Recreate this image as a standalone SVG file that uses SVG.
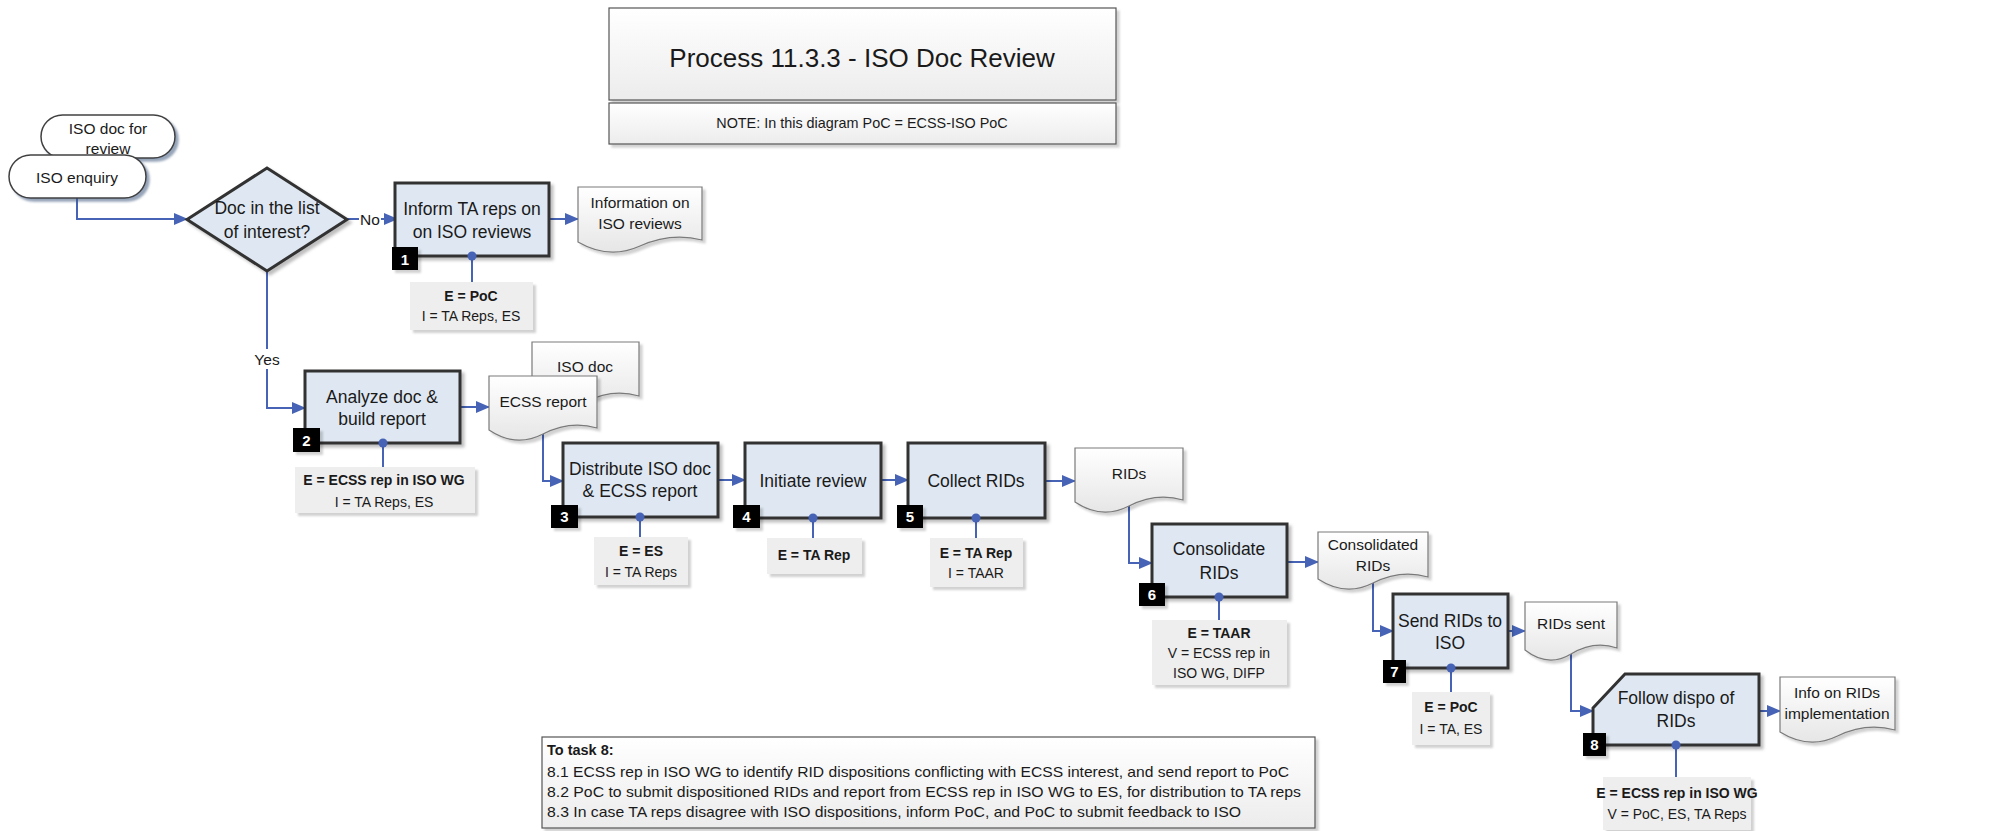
<svg xmlns="http://www.w3.org/2000/svg" width="1997" height="831" viewBox="0 0 1997 831">
<style>
text{font-family:"Liberation Sans",Arial,sans-serif;fill:#1a1a1a;dominant-baseline:central;text-anchor:middle}
.box{fill:#dfe8f2;stroke:#333;stroke-width:3;filter:url(#sh)}
.lbl{fill:#eeeeee;stroke:none;filter:url(#sh2)}
.doc{fill:url(#dg);stroke:#7a7a7a;stroke-width:1.2;filter:url(#sh2)}
.pill{fill:#fff;stroke:#404040;stroke-width:1.5;filter:url(#shb)}
.badge{fill:#000;filter:url(#sh2)}
.bn{fill:#fff;font-weight:bold;font-size:15px}
.t{font-size:17.5px}
.dt{font-size:15.5px}
.lt{font-size:14px}
.b{font-weight:bold}
.nt{font-size:14.5px;text-anchor:start}
.con{fill:none;stroke:#4663b5;stroke-width:2}
.dot{fill:#4663b5}
</style>
<defs>
<filter id="sh" x="-10%" y="-10%" width="130%" height="130%"><feDropShadow dx="3" dy="3" stdDeviation="1.5" flood-color="#000" flood-opacity="0.25"/></filter>
<filter id="sh2" x="-10%" y="-10%" width="130%" height="130%"><feDropShadow dx="3" dy="3" stdDeviation="1.2" flood-color="#000" flood-opacity="0.18"/></filter>
<filter id="shb" x="-10%" y="-10%" width="130%" height="130%"><feDropShadow dx="3" dy="3" stdDeviation="1" flood-color="#3c5a80" flood-opacity="0.55"/></filter>
<linearGradient id="dg" x1="0" y1="0" x2="0" y2="1"><stop offset="0" stop-color="#ffffff"/><stop offset="1" stop-color="#e6e6e6"/></linearGradient>
<linearGradient id="tg" x1="0" y1="0" x2="0" y2="1"><stop offset="0" stop-color="#ffffff"/><stop offset="1" stop-color="#ececec"/></linearGradient>
<marker id="ah" markerWidth="14" markerHeight="12" refX="13" refY="6" orient="auto" markerUnits="userSpaceOnUse"><path d="M0,0 L14,6 L0,12 Z" fill="#4663b5"/></marker>
</defs>

<g id="title">
<rect x="609" y="8" width="507" height="92" fill="url(#tg)" stroke="#555" stroke-width="1.2" filter="url(#sh2)"/>
<text x="862" y="58" style="font-size:26px">Process 11.3.3 - ISO Doc Review</text>
<rect x="609" y="103" width="507" height="41" fill="url(#tg)" stroke="#555" stroke-width="1.2" filter="url(#sh2)"/>
<text x="862" y="123" style="font-size:14.4px">NOTE: In this diagram PoC = ECSS-ISO PoC</text>
</g>

<g id="connectors">
<polyline class="con" points="77,198 77,219 187,219" marker-end="url(#ah)"/>
<line class="con" x1="347" y1="219" x2="397" y2="219" marker-end="url(#ah)"/>
<polyline class="con" points="267,271 267,408 305,408" marker-end="url(#ah)"/>
<line class="con" x1="549" y1="219" x2="578" y2="219" marker-end="url(#ah)"/>
<line class="con" x1="460" y1="407" x2="489" y2="407" marker-end="url(#ah)"/>
<polyline class="con" points="543,434 543,481 563,481" marker-end="url(#ah)"/>
<line class="con" x1="718" y1="480" x2="745" y2="480" marker-end="url(#ah)"/>
<line class="con" x1="881" y1="480" x2="908" y2="480" marker-end="url(#ah)"/>
<line class="con" x1="1045" y1="481" x2="1075" y2="481" marker-end="url(#ah)"/>
<polyline class="con" points="1129,506 1129,563 1152,563" marker-end="url(#ah)"/>
<line class="con" x1="1287" y1="562" x2="1318" y2="562" marker-end="url(#ah)"/>
<polyline class="con" points="1373,583 1373,631 1393,631" marker-end="url(#ah)"/>
<line class="con" x1="1508" y1="631" x2="1525" y2="631" marker-end="url(#ah)"/>
<polyline class="con" points="1571,654 1571,711 1593,711" marker-end="url(#ah)"/>
<line class="con" x1="1759" y1="711" x2="1780" y2="711" marker-end="url(#ah)"/>
<line class="con" x1="472" y1="256" x2="472" y2="282"/>
<line class="con" x1="383" y1="443" x2="383" y2="467"/>
<line class="con" x1="640" y1="517" x2="640" y2="537"/>
<line class="con" x1="813" y1="518" x2="813" y2="538"/>
<line class="con" x1="976" y1="518" x2="976" y2="538"/>
<line class="con" x1="1219" y1="597" x2="1219" y2="620"/>
<line class="con" x1="1451" y1="668" x2="1451" y2="692"/>
<line class="con" x1="1676" y1="745" x2="1676" y2="777"/>
<rect x="359" y="209" width="22" height="20" fill="#fff"/>
<text x="370" y="219" class="dt">No</text>
<rect x="253" y="349" width="28" height="20" fill="#fff"/>
<text x="267" y="359" class="dt">Yes</text>
</g>

<g id="start-review">
<rect class="pill" x="41" y="115" width="134" height="43" rx="21.5"/>
<text x="108" y="128" class="dt">ISO doc for</text>
<text x="108" y="148" class="dt">review</text>
</g>
<g id="start-enquiry">
<rect class="pill" x="9" y="155" width="137" height="43" rx="21.5"/>
<text x="77" y="177" class="dt">ISO enquiry</text>
</g>

<g id="decision">
<polygon points="187,219.5 267,168 347,219.5 267,271" fill="#dfe8f2" stroke="#333" stroke-width="3" filter="url(#sh)"/>
<text x="267" y="208" class="t">Doc in the list</text>
<text x="267" y="232" class="t">of interest?</text>
</g>

<g id="task1">
<rect class="box" x="395" y="183" width="154" height="73"/>
<text x="472" y="209" class="t">Inform TA reps on</text>
<text x="472" y="232" class="t">on ISO reviews</text>
<rect class="badge" x="392" y="247" width="26" height="23"/><text x="405" y="259" class="bn">1</text>
<circle class="dot" cx="472" cy="256" r="4.5"/>
<rect class="lbl" x="410" y="282" width="123" height="48"/>
<text x="471" y="296" class="lt b">E = PoC</text>
<text x="471" y="316" class="lt">I = TA Reps, ES</text>
</g>

<g id="doc-info-iso">
<path class="doc" d="M578,187 H702 V240 Q671,232 640,246 T578,242 Z"/>
<text x="640" y="202" class="dt">Information on</text>
<text x="640" y="223" class="dt">ISO reviews</text>
</g>

<g id="task2">
<rect class="box" x="305" y="371" width="155" height="72"/>
<text x="382" y="397" class="t">Analyze doc &amp;</text>
<text x="382" y="419" class="t">build report</text>
<rect class="badge" x="293" y="428" width="27" height="24"/><text x="306.5" y="440" class="bn">2</text>
<circle class="dot" cx="383" cy="443" r="4.5"/>
<rect class="lbl" x="295" y="467" width="180" height="46"/>
<text x="384" y="480" class="lt b">E = ECSS rep in ISO WG</text>
<text x="384" y="502" class="lt">I = TA Reps, ES</text>
</g>

<g id="doc-iso">
<path class="doc" d="M532,342 H639 V396 Q612,388 585.5,402 T532,398 Z"/>
<text x="585" y="366" class="dt">ISO doc</text>
</g>
<g id="doc-ecss-report">
<path class="doc" d="M489,376 H597 V428 Q570,420 543,434 T489,430 Z"/>
<text x="543" y="401" class="dt">ECSS report</text>
</g>

<g id="task3">
<rect class="box" x="563" y="443" width="155" height="74"/>
<text x="640" y="469" class="t">Distribute ISO doc</text>
<text x="640" y="491" class="t">&amp; ECSS report</text>
<rect class="badge" x="551" y="505" width="27" height="23"/><text x="564.5" y="516.5" class="bn">3</text>
<circle class="dot" cx="640" cy="517" r="4.5"/>
<rect class="lbl" x="594" y="537" width="94" height="48"/>
<text x="641" y="551" class="lt b">E = ES</text>
<text x="641" y="572" class="lt">I = TA Reps</text>
</g>

<g id="task4">
<rect class="box" x="745" y="443" width="136" height="75"/>
<text x="813" y="481" class="t">Initiate review</text>
<rect class="badge" x="733" y="505" width="27" height="23"/><text x="746.5" y="516.5" class="bn">4</text>
<circle class="dot" cx="813" cy="518" r="4.5"/>
<rect class="lbl" x="767" y="538" width="95" height="36"/>
<text x="814" y="555" class="lt b">E = TA Rep</text>
</g>

<g id="task5">
<rect class="box" x="908" y="443" width="137" height="75"/>
<text x="976" y="481" class="t">Collect RIDs</text>
<rect class="badge" x="897" y="505" width="26" height="23"/><text x="910" y="516.5" class="bn">5</text>
<circle class="dot" cx="976" cy="518" r="4.5"/>
<rect class="lbl" x="930" y="538" width="93" height="49"/>
<text x="976" y="553" class="lt b">E = TA Rep</text>
<text x="976" y="573" class="lt">I = TAAR</text>
</g>

<g id="doc-rids">
<path class="doc" d="M1075,448 H1183 V500 Q1156,492 1129,506 T1075,502 Z"/>
<text x="1129" y="473" class="dt">RIDs</text>
</g>

<g id="task6">
<rect class="box" x="1152" y="524" width="135" height="73"/>
<text x="1219" y="549" class="t">Consolidate</text>
<text x="1219" y="573" class="t">RIDs</text>
<rect class="badge" x="1139" y="583" width="26" height="23"/><text x="1152" y="594.5" class="bn">6</text>
<circle class="dot" cx="1219" cy="597" r="4.5"/>
<rect class="lbl" x="1152" y="620" width="135" height="65"/>
<text x="1219" y="633" class="lt b">E = TAAR</text>
<text x="1219" y="653" class="lt">V = ECSS rep in</text>
<text x="1219" y="673" class="lt">ISO WG, DIFP</text>
</g>

<g id="doc-consolidated">
<path class="doc" d="M1318,532 H1428 V577 Q1400.5,569 1373,583 T1318,579 Z"/>
<text x="1373" y="544" class="dt">Consolidated</text>
<text x="1373" y="565" class="dt">RIDs</text>
</g>

<g id="task7">
<rect class="box" x="1393" y="594" width="115" height="74"/>
<text x="1450" y="621" class="t">Send RIDs to</text>
<text x="1450" y="643" class="t">ISO</text>
<rect class="badge" x="1383" y="660" width="23" height="23"/><text x="1394.5" y="671.5" class="bn">7</text>
<circle class="dot" cx="1451" cy="668" r="4.5"/>
<rect class="lbl" x="1412" y="692" width="78" height="53"/>
<text x="1451" y="707" class="lt b">E = PoC</text>
<text x="1451" y="729" class="lt">I = TA, ES</text>
</g>

<g id="doc-rids-sent">
<path class="doc" d="M1525,602 H1617 V648 Q1594,640 1571,654 T1525,650 Z"/>
<text x="1571" y="623" class="dt">RIDs sent</text>
</g>

<g id="task8">
<path class="box" d="M1593,708 L1625,674 H1759 V745 H1593 Z"/>
<text x="1676" y="698" class="t">Follow dispo of</text>
<text x="1676" y="721" class="t">RIDs</text>
<rect class="badge" x="1583" y="733" width="23" height="23"/><text x="1594.5" y="744.5" class="bn">8</text>
<circle class="dot" cx="1676" cy="745" r="4.5"/>
<rect class="lbl" x="1603" y="777" width="148" height="53"/>
<text x="1677" y="793" class="lt b">E = ECSS rep in ISO WG</text>
<text x="1677" y="814" class="lt">V = PoC, ES, TA Reps</text>
</g>

<g id="doc-info-rids">
<path class="doc" d="M1780,677 H1895 V730 Q1866,722 1837.5,736 T1780,732 Z"/>
<text x="1837" y="692" class="dt">Info on RIDs</text>
<text x="1837" y="713" class="dt">implementation</text>
</g>

<g id="notes">
<rect x="542" y="737" width="773" height="91" fill="url(#tg)" stroke="#555" stroke-width="1.2" filter="url(#sh2)"/>
<text x="547" y="750" class="nt" style="font-weight:bold">To task 8:</text>
<text x="547" y="772" class="nt" textLength="742" lengthAdjust="spacingAndGlyphs">8.1 ECSS rep in ISO WG to identify RID dispositions conflicting with ECSS interest, and send report to PoC</text>
<text x="547" y="792" class="nt" textLength="754" lengthAdjust="spacingAndGlyphs">8.2 PoC to submit dispositioned RIDs and report from ECSS rep in ISO WG to ES, for distribution to TA reps</text>
<text x="547" y="812" class="nt" textLength="694" lengthAdjust="spacingAndGlyphs">8.3 In case TA reps disagree with ISO dispositions, inform PoC, and PoC to submit feedback to ISO</text>
</g>
</svg>
